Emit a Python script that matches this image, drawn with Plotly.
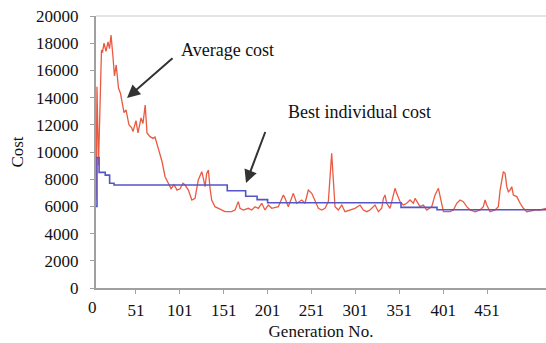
import plotly.graph_objects as go

# ---- data ----
avg_gen = [5.5, 6.6, 8.3, 10.6, 11.7, 12.8, 14.6, 16.9, 19.1, 20.9, 22.6, 24.8, 26.5, 28.5,
           31.1, 33.4, 35.4, 37.4, 39.7, 41.4, 43.0, 46.0, 47.6, 51.0, 53.3, 56.8, 59.0,
           61.5, 63.6, 67.0, 70.4, 72.7, 75.6, 80.7, 84.1, 88.0, 91.0, 94.4, 97.8, 101.2,
           104.6, 107.0, 110.7, 114.7, 118.3, 122.0, 126.0, 127.8, 129.7, 131.6, 133.5,
           135.4, 137.3, 141.0, 144.8, 148.7, 152.5, 160.0, 163.9, 167.6, 169.6, 173.3,
           179.0, 182.9, 186.7, 190.4, 194.3, 198.0, 201.8, 205.7, 213.2, 218.9, 220.9,
           224.6, 230.3, 234.2, 239.9, 243.6, 247.4, 251.3, 255.0, 258.8, 262.7, 266.4,
           270.2, 272.1, 274.0, 275.9, 277.8, 281.6, 285.5, 289.2, 294.9, 300.6, 306.3,
           310.1, 314.0, 317.7, 323.4, 327.2, 331.0, 332.9, 334.8, 336.7, 340.5, 344.3,
           346.2, 348.1, 351.9, 355.7, 359.5, 363.3, 367.1, 369.0, 372.8, 374.7, 378.5,
           382.3, 388.0, 391.8, 395.6, 397.5, 401.3, 408.9, 412.7, 416.5, 420.3, 424.0,
           427.9, 431.7, 437.4, 443.1, 446.8, 448.8, 450.7, 454.5, 460.2, 463.9, 465.9,
           469.6, 471.6, 473.5, 475.3, 477.3, 479.2, 481.0, 484.9, 488.7, 492.4, 496.3,
           505.8, 511.5, 518.3]
avg_cost = [6500, 14800, 9000, 15700, 17500, 17300, 18000, 17400, 18100, 17600, 18600, 17000,
            15600, 16400, 14700, 14300, 13600, 12900, 13100, 12500, 12000, 11800, 11500,
            12300, 11400, 12500, 12100, 13450, 11400, 11130, 11000, 11100, 10400, 9300,
            8200, 7700, 7300, 7600, 7200, 7300, 7700, 7570, 7200, 6470, 6590, 7940, 8550,
            8060, 7450, 8430, 8680, 7330, 6470, 5980, 5860, 5735, 5610, 5610, 5735, 6350,
            5860, 5735, 5860, 5735, 5980, 5860, 6230, 5735, 6100, 5860, 5980, 6840, 6590,
            5980, 6960, 6230, 6470, 6230, 7200, 6960, 6350, 5860, 5735, 5860, 6350, 8430,
            9900, 7940, 5980, 5735, 6100, 5610, 5735, 5860, 6100, 5735, 5610, 5735, 6100,
            5610, 5860, 6590, 6840, 6230, 5860, 6960, 7330, 6960, 6350, 6100, 6230, 6470,
            6230, 6590, 6230, 5980, 6100, 5735, 5980, 6840, 7330, 6720, 5610, 5610, 5735,
            6230, 6470, 6350, 5980, 5735, 5610, 5735, 5980, 6470, 6100, 5610, 5735, 5980,
            7200, 8550, 8430, 7450, 7080, 7200, 7450, 6840, 6720, 6230, 5860, 5610, 5735,
            5735, 5860]

best_gen = [5.5, 6.6, 9.0, 16.0, 21.0, 26.0, 155.0, 176.0, 189.0, 201.0, 353.0, 394.0, 518.3]
best_cost = [6000, 9600, 8500, 8300, 7700, 7570, 7150, 6750, 6500, 6270, 5930, 5750, 5800]

y_ticks = list(range(0, 20001, 2000))
x_ticks = [51, 101, 151, 201, 251, 301, 351, 401, 451]
x_range = [5.47, 518.2]
x_first_label = 0

FONT = "Liberation Serif"

fig = go.Figure()
fig.add_trace(go.Scatter(x=avg_gen, y=avg_cost, mode="lines",
                         line=dict(color="#EA5A42", width=1.3), name="Average cost"))
fig.add_trace(go.Scatter(x=best_gen, y=best_cost, mode="lines", line_shape="hv",
                         line=dict(color="#5555C8", width=1.6), name="Best individual cost"))

axis_style = dict(showline=True, linecolor="#a0a0a0", linewidth=2, ticks="outside",
                  ticklen=4, tickcolor="#a0a0a0", tickwidth=1, showgrid=False,
                  zeroline=False, automargin=False,
                  tickfont=dict(family=FONT, size=17, color="#111"))

fig.update_xaxes(range=x_range, tickmode="array", tickvals=x_ticks,
                 ticktext=[str(v) for v in x_ticks], ticklabelstandoff=2,
                 title=dict(text="Generation No.", font=dict(family=FONT, size=17, color="#111"),
                            standoff=6), **axis_style)
fig.update_yaxes(range=[0, 20000], tickmode="array", tickvals=y_ticks,
                 ticktext=[str(v) for v in y_ticks], ticklabelstandoff=8,
                 title=dict(text="Cost", font=dict(family=FONT, size=17, color="#111"),
                            standoff=8), **axis_style)

# the "0" category label sits left of the value axis
fig.add_annotation(xref="paper", yref="paper",
                   x=(x_first_label - x_range[0]) / (x_range[1] - x_range[0]), y=0,
                   yanchor="top", yshift=-8, xshift=-5, text=str(x_first_label),
                   showarrow=False, font=dict(family=FONT, size=17, color="#111"))

# light top border of the plot area
fig.add_shape(type="line", xref="paper", yref="paper", x0=0, x1=1, y0=1, y1=1,
              line=dict(color="#dddddd", width=1.5))

ann_font = dict(family=FONT, size=18, color="#111")
fig.add_annotation(x=100, y=17500, text="Average cost", showarrow=False,
                   xanchor="left", yanchor="middle", font=ann_font)
fig.add_annotation(x=222, y=12950, text="Best individual cost", showarrow=False,
                   xanchor="left", yanchor="middle", font=ann_font)
fig.add_annotation(x=40.8, y=13970, ax=47, ay=-41, text=" ", showarrow=True,
                   arrowhead=2, arrowsize=1.3, arrowwidth=2, arrowcolor="#333",
                   font=dict(size=1))
fig.add_annotation(x=176.4, y=7720, ax=20, ay=-53, text=" ", showarrow=True,
                   arrowhead=2, arrowsize=1.3, arrowwidth=2, arrowcolor="#333",
                   font=dict(size=1))

fig.update_layout(width=546, height=343, margin=dict(l=96, r=0, t=16, b=55),
                  plot_bgcolor="white", paper_bgcolor="white", showlegend=False,
                  font=dict(family=FONT, size=17, color="#111"))

fig.write_html("out.html", config={"displayModeBar": False},
               post_script="document.body.style.margin='0';document.body.style.overflow='hidden';")
